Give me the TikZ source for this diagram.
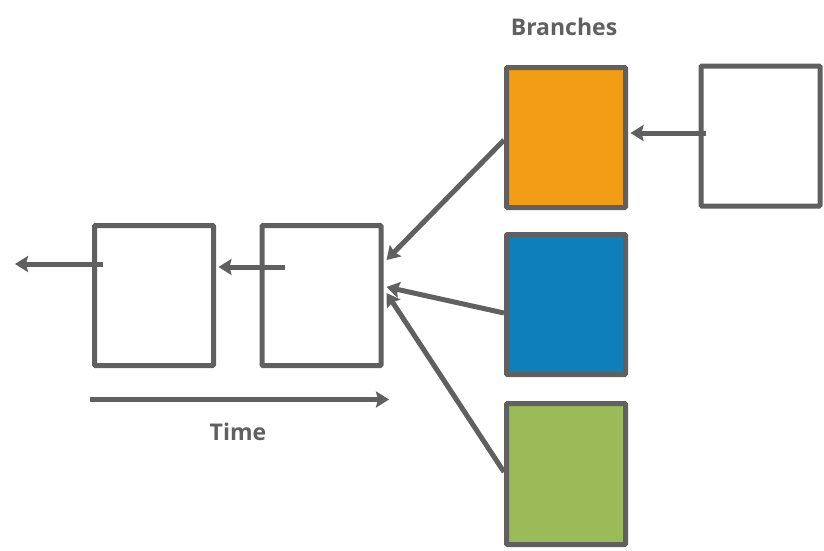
\documentclass[tikz,border=0pt]{standalone}
\usepackage{fontspec}
\setmainfont{Open Sans}
\usetikzlibrary{arrows.meta}
\definecolor{lgray}{HTML}{606060}
\definecolor{borange}{HTML}{F29D13}
\definecolor{bblue}{HTML}{0E7FBB}
\definecolor{bgreen}{HTML}{9BBB59}
\begin{document}
\begin{tikzpicture}[x=1pt,y=-1pt,
  box/.style={draw=lgray,line width=5pt,minimum width=119pt,minimum height=140pt,inner sep=0pt,rounded corners=1pt},
  conn/.style={draw=lgray,line width=5pt,-{Stealth[length=13pt,width=16pt,inset=2pt]}},
  lbl/.style={text=lgray,font=\fontsize{23}{26}\selectfont\bfseries}]
\useasboundingbox (0,0) rectangle (824,550);
\node[box] (b1) at (154,295.5) {};
\node[box] (b2) at (321.5,295.5) {};
\node[box,fill=borange] (o) at (566,137.5) {};
\node[box] (w) at (760.5,136) {};
\node[box,fill=bblue] (bl) at (566,304.5) {};
\node[box,fill=bgreen,minimum height=141pt] (g) at (566,474) {};
\node[lbl] (br) at (564,27) {Branches};
\node[lbl] (tm) at (238,432) {Time};
\coordinate (s1) at (103,264);
\coordinate (e1) at (15,264);
\coordinate (s2) at (285,267);
\coordinate (s3) at (706,133);
\coordinate (t1) at (90,399.5);
\coordinate (t2) at (389,399.5);
\draw[conn] (s1) -- (e1);
\draw[conn] (s2) -- ([xshift=2.5pt]b1.east |- s2);
\draw[conn] (s3) -- ([xshift=2.5pt]o.east |- s3);
\draw[conn] (t1) -- (t2);
\draw[conn] ([yshift=-2.5pt]o.west) -- ([xshift=3pt,yshift=35.5pt]b2.east);
\draw[conn] ([yshift=-8.5pt]bl.west) -- ([xshift=3pt,yshift=8.5pt]b2.east);
\draw[conn] ([yshift=2pt]g.west) -- ([xshift=3pt,yshift=2.5pt]b2.east);
\end{tikzpicture}
\end{document}
